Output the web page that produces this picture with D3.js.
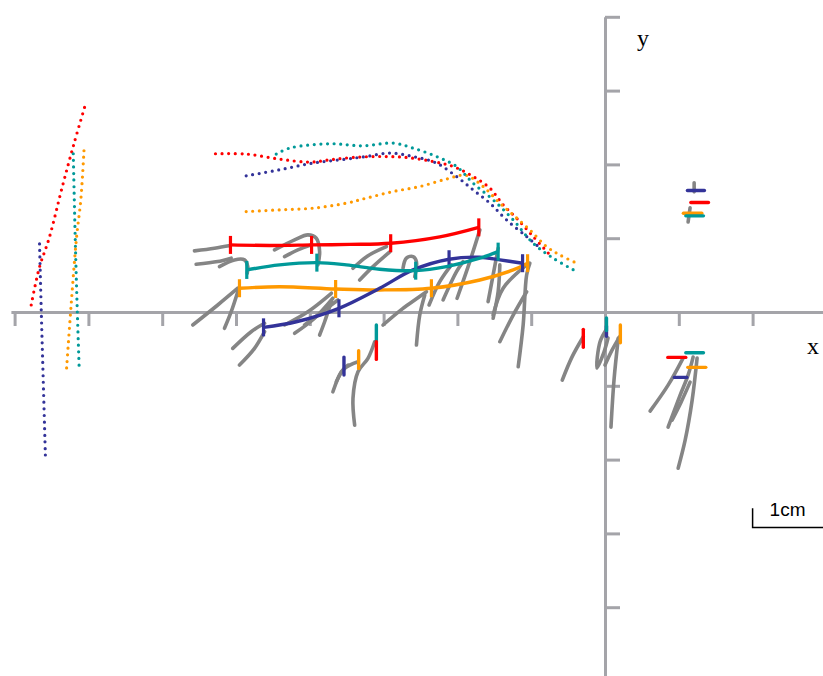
<!DOCTYPE html>
<html lang="en">
<head>
<meta charset="UTF-8">
<title>Limb trajectories</title>
<script src="https://cdn.jsdelivr.net/npm/d3@7"></script>
<style>
  body { margin: 0; background: #fff; }
</style>
</head>
<body>
<div id="chart"></div>
<script>
// every value is in cm, origin where the two axes cross
const xTicks = [-8, -7, -6, -5, -4, -3, -2, -1, 1, 2];
const yTicks = [-4, -3, -2, -1, 1, 2, 3, 4];

const colors = {red: "#ff0000", teal: "#009999", navy: "#333399", orange: "#ff9900"};

// dotted trajectories, left group
const dotLeftRed    = [[-7.775,0.095],[-7.666,0.597],[-7.531,1.004],[-7.354,1.696],[-7.192,2.293],[-7.049,2.782]];
const dotLeftNavy   = [[-7.662,0.923],[-7.639,0.027],[-7.612,-0.923],[-7.581,-2.008]];
const dotLeftTeal   = [[-7.205,2.144],[-7.178,0.977],[-7.151,0.027],[-7.124,-0.787]];
const dotLeftOrange = [[-7.060,2.185],[-7.103,1.520],[-7.160,1.018],[-7.232,0.122],[-7.300,-0.828]];

// dotted trajectories, middle group
const dotMidRed = [[-5.278,2.144],[-4.862,2.140],[-4.410,2.072],[-4.003,2.031],[-3.731,2.062],[-3.415,2.094],
  [-3.053,2.107],[-2.691,2.094],[-2.330,2.039],[-2.058,1.972],[-1.787,1.836],[-1.560,1.678],[-1.380,1.452],
  [-1.198,1.271],[-0.973,1.022],[-0.746,0.773]];
const dotMidTeal = [[-4.455,2.140],[-4.274,2.221],[-3.731,2.280],[-3.280,2.252],[-2.873,2.289],[-2.601,2.221],
  [-2.284,2.107],[-2.012,1.972],[-1.787,1.746],[-1.516,1.520],[-1.244,1.248],[-0.973,0.932],[-0.702,0.729],[-0.407,0.560]];
const dotMidNavy = [[-4.862,1.845],[-4.410,1.927],[-3.958,2.018],[-3.505,2.072],[-3.234,2.107],[-2.917,2.153],
  [-2.601,2.107],[-2.284,2.018],[-2.012,1.836],[-1.787,1.655],[-1.560,1.475],[-1.334,1.248],[-1.062,1.022],[-0.882,0.868]];
const dotMidOrange = [[-4.862,1.361],[-4.410,1.384],[-3.958,1.407],[-3.505,1.475],[-3.234,1.543],[-2.873,1.632],
  [-2.510,1.700],[-2.148,1.801],[-1.886,1.852],[-1.651,1.700],[-1.425,1.475],[-1.244,1.316],[-1.018,1.113],
  [-0.791,0.886],[-0.611,0.773],[-0.362,0.651]];

// solid trajectories and the indices that carry a tick
const solidRed    = [[-5.075,0.909],[-4.546,0.902],[-3.976,0.909],[-3.460,0.916],[-2.904,0.932],[-2.239,1.018],[-1.710,1.147]];
const solidRedTicks = [0, 2, 4, 6];
const solidTeal   = [[-4.854,0.570],[-4.410,0.638],[-3.904,0.669],[-3.505,0.638],[-3.053,0.579],[-2.565,0.560],
  [-2.148,0.615],[-1.696,0.729],[-1.448,0.818]];
const solidTealTicks = [0, 2, 5, 8];
const solidOrange = [[-4.953,0.322],[-4.410,0.343],[-3.650,0.312],[-3.053,0.299],[-2.352,0.322],[-1.696,0.434],
  [-1.244,0.570],[-1.049,0.661]];
const solidOrangeTicks = [0, 2, 4, 7];
const solidNavy   = [[-4.627,-0.208],[-4.183,-0.132],[-3.605,0.050],[-3.053,0.322],[-2.601,0.570],[-2.113,0.715],
  [-1.696,0.742],[-1.425,0.706],[-1.117,0.661]];
const solidNavyTicks = [0, 2, 5, 8];

// short vertical colour bars: [colour, x, y1, y2]
const vBars = [
  ["navy", -3.537, -0.611, -0.855], ["orange", -3.338, -0.525, -0.764],
  ["teal", -3.098, -0.176, -0.403], ["red", -3.098, -0.403, -0.642],
  ["red", -0.294, -0.235, -0.479], ["navy", 0.020, -0.190, -0.330],
  ["teal", 0.020, -0.081, -0.250], ["orange", 0.208, -0.176, -0.417]
];
// short horizontal colour bars: [colour, x1, x2, y]
const hBars = [
  ["navy", 1.117, 1.347, 1.646], ["red", 1.163, 1.402, 1.483],
  ["orange", 1.062, 1.312, 1.339], ["teal", 1.095, 1.334, 1.303],
  ["red", 0.851, 1.095, -0.615], ["teal", 1.095, 1.334, -0.552],
  ["orange", 1.122, 1.366, -0.750], ["navy", 0.940, 1.109, -0.886]
];

// grey limb strokes
const greyStrokes = [
  [[-5.563,0.828],[-5.292,0.864],[-5.075,0.900]],
  [[-5.540,0.647],[-5.247,0.683],[-5.065,0.729]],
  [[-5.224,0.615],[-5.021,0.706],[-4.885,0.706],[-4.840,0.615],[-4.848,0.525]],
  [[-5.586,-0.176],[-5.247,0.095],[-4.976,0.322]],
  [[-5.156,-0.221],[-5.065,0.004],[-4.976,0.275]],
  [[-5.044,-0.493],[-4.794,-0.267],[-4.613,-0.153]],
  [[-4.953,-0.719],[-4.749,-0.493],[-4.613,-0.267]],
  [[-4.478,0.841],[-4.206,0.977],[-4.026,1.045],[-3.912,1.000],[-3.867,0.818],[-3.890,0.638]],
  [[-4.342,0.750],[-4.162,0.841],[-3.980,0.909]],
  [[-4.342,-0.176],[-4.026,0.004],[-3.708,0.254]],
  [[-4.206,-0.289],[-3.935,-0.085],[-3.687,0.186]],
  [[-4.071,-0.176],[-3.799,0.027],[-3.619,0.163]],
  [[-3.867,-0.312],[-3.799,-0.132],[-3.708,0.140]],
  [[-3.687,-1.081],[-3.573,-0.810],[-3.483,-0.719]],
  [[-3.641,-0.946],[-3.528,-0.764],[-3.347,-0.674]],
  [[-3.392,-1.533],[-3.415,-1.171],[-3.347,-0.810],[-3.212,-0.628],[-3.121,-0.403]],
  [[-3.415,0.593],[-3.216,0.760],[-2.962,0.886]],
  [[-3.324,0.434],[-3.144,0.615],[-2.917,0.814]],
  [[-2.737,0.593],[-2.691,0.729],[-2.601,0.750],[-2.555,0.683],[-2.578,0.479]],
  [[-3.008,-0.176],[-2.737,0.050],[-2.419,0.275]],
  [[-2.555,-0.448],[-2.510,-0.041],[-2.442,0.231]],
  [[-2.384,0.095],[-2.239,0.411],[-2.080,0.638]],
  [[-2.194,0.163],[-2.012,0.547],[-1.923,0.683]],
  [[-2.004,0.186],[-1.832,0.683],[-1.696,1.113]],
  [[-1.584,0.140],[-1.516,0.502],[-1.448,0.864]],
  [[-1.516,-0.085],[-1.448,0.275],[-1.425,0.638]],
  [[-1.425,-0.403],[-1.244,-0.041],[-1.062,0.275]],
  [[-1.176,-0.742],[-1.109,-0.176],[-1.062,0.502],[-1.018,0.661]],
  [[-1.516,-0.041],[-1.380,0.322],[-1.062,0.638]],
  [[-0.294,-0.335],[-0.448,-0.611],[-0.579,-0.923]],
  [[0.014,-0.244],[-0.068,-0.407],[-0.109,-0.760],[-0.014,-0.543],[0.041,-0.353]],
  [[0.180,-0.353],[0.122,-0.923],[0.081,-1.560]],
  [[0.204,-0.326],[0.095,-0.516],[0.000,-0.719]],
  [[1.058,-0.624],[0.855,-0.991],[0.611,-1.343]],
  [[1.194,-0.611],[1.126,-0.855],[1.018,-1.126],[0.855,-1.560]],
  [[1.248,-0.624],[1.181,-1.194],[1.086,-1.737],[0.991,-2.117]],
  [[1.153,-0.950],[1.031,-1.221],[0.909,-1.465]],
  [[1.208,1.750],[1.208,1.628]],
  [[1.153,1.411],[1.126,1.221]]
];

const width = 823, height = 676;
const unit = 73.8;
const x = d3.scaleLinear().domain([0, 1]).range([605, 605 + unit]);
const y = d3.scaleLinear().domain([0, 1]).range([312, 312 - unit]);

const svg = d3.select("#chart").append("svg")
    .attr("width", width)
    .attr("height", height)
    .style("background", "#fff");

// axes
const axisGrey = "#a4a4a9";
const xAxisScale = x.copy().domain([-8.05, 3.0]).range([x(-8.05), x(3.0)]);
const yAxisScale = y.copy().domain([-4.95, 4.0]).range([y(-4.95), y(4.0)]);

const gx = svg.append("g")
    .attr("transform", `translate(0,${y(0)})`)
    .call(d3.axisBottom(xAxisScale).tickValues(xTicks).tickSize(14).tickSizeOuter(0).tickFormat(""));
const gy = svg.append("g")
    .attr("transform", `translate(${x(0)},0)`)
    .call(d3.axisRight(yAxisScale).tickValues(yTicks).tickSize(15).tickSizeOuter(0).tickFormat(""));
[gx, gy].forEach(g => {
  g.selectAll("path, line").attr("stroke", axisGrey).attr("stroke-width", 3);
});

svg.append("text").attr("x", 813).attr("y", 354)
    .attr("text-anchor", "middle")
    .style("font-family", "'Liberation Serif', 'DejaVu Serif', serif")
    .style("font-size", "24px")
    .text("x");
svg.append("text").attr("x", 643).attr("y", 46)
    .attr("text-anchor", "middle")
    .style("font-family", "'Liberation Serif', 'DejaVu Serif', serif")
    .style("font-size", "24px")
    .text("y");

const line = d3.line()
    .x(d => x(d[0]))
    .y(d => y(d[1]))
    .curve(d3.curveCatmullRom.alpha(0.5));

// grey strokes first
svg.append("g").selectAll("path")
  .data(greyStrokes)
  .join("path")
    .attr("d", line)
    .attr("fill", "none")
    .attr("stroke", "#858585")
    .attr("stroke-width", 3.6)
    .attr("stroke-linecap", "round")
    .attr("stroke-linejoin", "round");

// solid coloured trajectories with ticks
const solids = [
  {c: "red", pts: solidRed, ticks: solidRedTicks},
  {c: "orange", pts: solidOrange, ticks: solidOrangeTicks},
  {c: "navy", pts: solidNavy, ticks: solidNavyTicks},
  {c: "teal", pts: solidTeal, ticks: solidTealTicks}
];
solids.forEach(s => {
  svg.append("path")
    .datum(s.pts)
    .attr("d", line)
    .attr("fill", "none")
    .attr("stroke", colors[s.c])
    .attr("stroke-width", 3.4);
  svg.selectAll(null)
    .data(s.ticks.map(i => s.pts[i]))
    .join("line")
      .attr("x1", d => x(d[0])).attr("x2", d => x(d[0]))
      .attr("y1", d => y(d[1]) - 9).attr("y2", d => y(d[1]) + 9)
      .attr("stroke", colors[s.c])
      .attr("stroke-width", 3.2);
});

// small colour bars
svg.append("g").selectAll("line")
  .data(vBars)
  .join("line")
    .attr("x1", d => x(d[1])).attr("x2", d => x(d[1]))
    .attr("y1", d => y(d[2])).attr("y2", d => y(d[3]))
    .attr("stroke", d => colors[d[0]])
    .attr("stroke-width", 3.4)
    .attr("stroke-linecap", "round");
svg.append("g").selectAll("line")
  .data(hBars)
  .join("line")
    .attr("x1", d => x(d[1])).attr("x2", d => x(d[2]))
    .attr("y1", d => y(d[3])).attr("y2", d => y(d[3]))
    .attr("stroke", d => colors[d[0]])
    .attr("stroke-width", 3.4)
    .attr("stroke-linecap", "round");

// dotted trajectories
const dotted = [
  {c: "red", pts: dotLeftRed}, {c: "navy", pts: dotLeftNavy},
  {c: "teal", pts: dotLeftTeal}, {c: "orange", pts: dotLeftOrange},
  {c: "red", pts: dotMidRed}, {c: "navy", pts: dotMidNavy},
  {c: "orange", pts: dotMidOrange}, {c: "teal", pts: dotMidTeal}
];
svg.append("g").selectAll("path")
  .data(dotted)
  .join("path")
    .attr("d", d => line(d.pts))
    .attr("fill", "none")
    .attr("stroke", d => colors[d.c])
    .attr("stroke-width", 3.2)
    .attr("stroke-linecap", "round")
    .attr("stroke-dasharray", "0 6.6");

// 1 cm scale bar
const barX = 2, barY = -2.92, barTop = -2.66;
svg.append("path")
    .attr("d", `M${x(barX)},${y(barTop)} V${y(barY)} H${x(barX + 1)}`)
    .attr("fill", "none")
    .attr("stroke", "#000")
    .attr("stroke-width", 1.5);
svg.append("text")
    .attr("x", x(barX) + 17).attr("y", y(barY) - 11)
    .style("font-family", "'Liberation Sans', Arial, sans-serif")
    .style("font-size", "19px")
    .text("1cm");
</script>
</body>
</html>
